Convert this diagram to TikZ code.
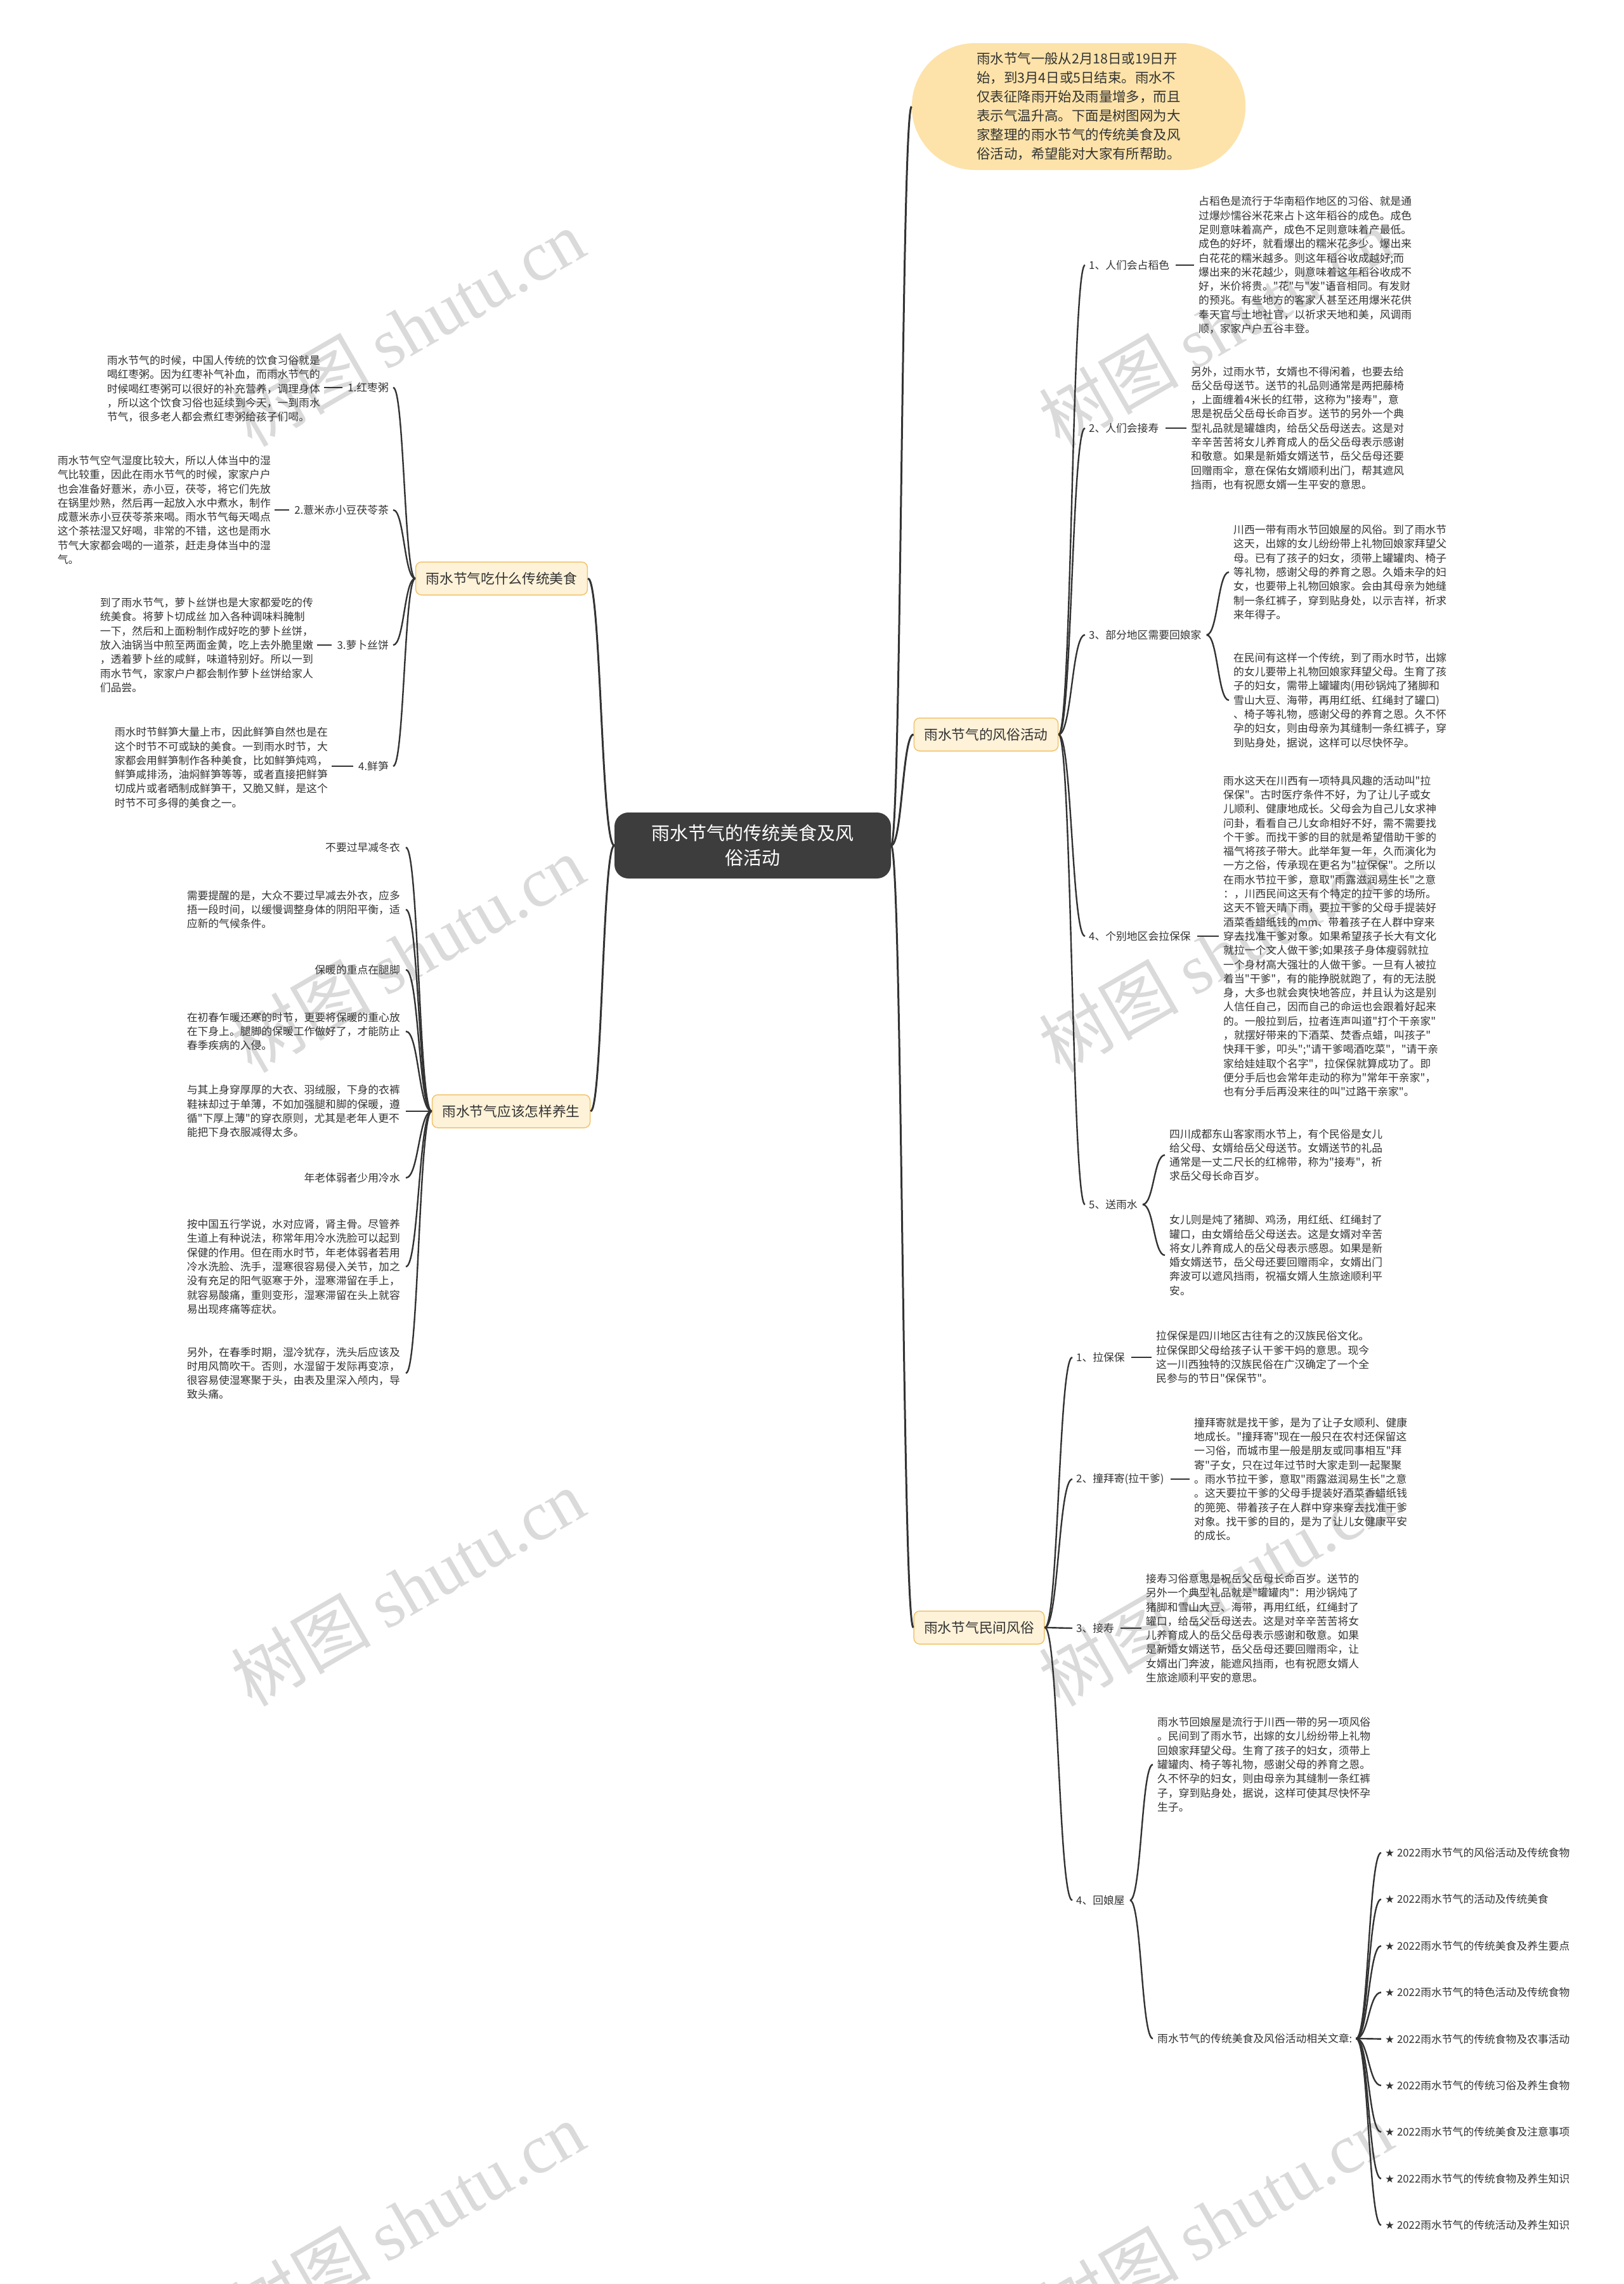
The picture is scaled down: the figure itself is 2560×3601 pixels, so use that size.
\documentclass[tikz,border=0pt]{standalone}
\usepackage{fontspec}
\setmainfont{Noto Sans CJK SC}[Ligatures=TeXOff]
\newfontfamily\symfont{DejaVu Sans}
\newfontfamily\wmlat{Liberation Serif}
\usetikzlibrary{calc,shapes.misc}
\definecolor{ink}{HTML}{333333}
\definecolor{pillfill}{HTML}{FDE3A9}
\definecolor{brfill}{HTML}{FEF2D8}
\definecolor{brdr}{HTML}{F2C46E}
\definecolor{cfill}{HTML}{3D3D3D}
\definecolor{wmgray}{HTML}{DADADA}
\tikzset{
  txt/.style={font=\fontsize{16.8}{22.3}\selectfont, inner sep=0pt, align=left, text=ink},
  lbl/.style={font=\fontsize{16.8}{22.3}\selectfont, inner sep=0pt, text=ink},
  branchnode/.style={draw=brdr, fill=brfill, line width=1.5pt, rounded corners=9pt,
    font=\fontsize{21.7}{26}\selectfont, inner xsep=16pt, inner ysep=0pt, minimum height=52pt, text=ink},
  centernode/.style={fill=cfill, rounded corners=22pt, text=white,
    font=\fontsize{29}{39}\selectfont, align=center, minimum width=436pt, minimum height=104pt},
  pill/.style={rounded rectangle, fill=pillfill, minimum width=533pt, minimum height=200pt,
    font=\fontsize{21.4}{30}\selectfont, align=left, text=ink},
  mainconn/.style={draw=ink, line width=3pt},
  subconn/.style={draw=ink, line width=2.4pt},
  bk/.style={to path={let \p1=(\tikztostart), \p2=(\tikztotarget) in
    (\p1) .. controls ({\x1+#1*(\x2-\x1)},\y1) and ({\x1+#1*(\x2-\x1)},\y2) .. (\p2)}},
  bk/.default=0.5,
  wm/.style={rotate=30, text=wmgray, font=\fontsize{110}{110}\selectfont, inner sep=0pt},
}
\begin{document}
\begin{tikzpicture}[x=1pt,y=-1pt]
\useasboundingbox[fill=white] (0,0) rectangle (2560,3601);
% watermarks
\foreach \wx/\wy [count=\i] in {643/517,1917/517,643/1504,1917/1504,643/2503,1917/2503,643/3501,1917/3501}
  \node[wm] (wm\i) at (\wx,\wy) {树图 {\wmlat shutu.cn}};

% top and centre
\node[pill] (top) at (1701,168) {雨水节气一般从2月18日或19日开\\始，到3月4日或5日结束。雨水不\\仅表征降雨开始及雨量增多，而且\\表示气温升高。下面是树图网为大\\家整理的雨水节气的传统美食及风\\俗活动，希望能对大家有所帮助。};
\node[centernode] (c) at (1187,1333) {雨水节气的传统美食及风\\俗活动};

% branches
\node[branchnode] (f) at (791,912) {雨水节气吃什么传统美食};
\node[branchnode] (h) at (806,1752) {雨水节气应该怎样养生};
\node[branchnode] (r) at (1555,1158) {雨水节气的风俗活动};
\node[branchnode] (m) at (1544,2566) {雨水节气民间风俗};

\draw[mainconn] (c.east) to[bk] (top.west);
\draw[mainconn] (c.east) to[bk] (r.west);
\draw[mainconn] (c.east) to[bk] (m.west);
\draw[mainconn] (c.west) to[bk] (f.east);
\draw[mainconn] (c.west) to[bk] (h.east);

% ---------- food ----------
\node[lbl, anchor=east] (a1) at (613,611) {1.红枣粥};
\node[txt, anchor=east] (b1) at (505,613) {雨水节气的时候，中国人传统的饮食习俗就是\\喝红枣粥。因为红枣补气补血，而雨水节气的\\时候喝红枣粥可以很好的补充营养，调理身体\\，所以这个饮食习俗也延续到今天，一到雨水\\节气，很多老人都会煮红枣粥给孩子们喝。};
\node[lbl, anchor=east] (a2) at (613,804) {2.薏米赤小豆茯苓茶};
\node[txt, anchor=east] (b2) at (427,804) {雨水节气空气湿度比较大，所以人体当中的湿\\气比较重，因此在雨水节气的时候，家家户户\\也会准备好薏米，赤小豆，茯苓，将它们先放\\在锅里炒熟，然后再一起放入水中煮水，制作\\成薏米赤小豆茯苓茶来喝。雨水节气每天喝点\\这个茶祛湿又好喝，非常的不错，这也是雨水\\节气大家都会喝的一道茶，赶走身体当中的湿\\气。};
\node[lbl, anchor=east] (a3) at (613,1017) {3.萝卜丝饼};
\node[txt, anchor=east] (b3) at (494,1017) {到了雨水节气，萝卜丝饼也是大家都爱吃的传\\统美食。将萝卜切成丝 加入各种调味料腌制\\一下，然后和上面粉制作成好吃的萝卜丝饼，\\放入油锅当中煎至两面金黄，吃上去外脆里嫩\\，透着萝卜丝的咸鲜，味道特别好。所以一到\\雨水节气，家家户户都会制作萝卜丝饼给家人\\们品尝。};
\node[lbl, anchor=east] (a4) at (613,1208) {4.鲜笋};
\node[txt, anchor=east] (b4) at (517,1210) {雨水时节鲜笋大量上市，因此鲜笋自然也是在\\这个时节不可或缺的美食。一到雨水时节，大\\家都会用鲜笋制作各种美食，比如鲜笋炖鸡，\\鲜笋咸排汤，油焖鲜笋等等，或者直接把鲜笋\\切成片或者晒制成鲜笋干，又脆又鲜，是这个\\时节不可多得的美食之一。};
\foreach \k in {1,2,3,4}{
  \draw[subconn] (f.west) to[bk] ([xshift=7pt]a\k.east);
  \draw[subconn] ([xshift=-8pt]a\k.west) -- ([xshift=6pt]b\k.east |- a\k.west);
}

% ---------- health ----------
\node[lbl, anchor=east] (g1) at (631,1336) {不要过早减冬衣};
\node[txt, anchor=east] (g2) at (631,1434) {需要提醒的是，大众不要过早减去外衣，应多\\捂一段时间，以缓慢调整身体的阴阳平衡，适\\应新的气候条件。};
\node[lbl, anchor=east] (g3) at (631,1529) {保暖的重点在腿脚};
\node[txt, anchor=east] (g4) at (631,1626) {在初春乍暖还寒的时节，更要将保暖的重心放\\在下身上。腿脚的保暖工作做好了，才能防止\\春季疾病的入侵。};
\node[txt, anchor=east] (g5) at (631,1752) {与其上身穿厚厚的大衣、羽绒服，下身的衣裤\\鞋袜却过于单薄，不如加强腿和脚的保暖，遵\\循"下厚上薄"的穿衣原则，尤其是老年人更不\\能把下身衣服减得太多。};
\node[lbl, anchor=east] (g6) at (631,1857) {年老体弱者少用冷水};
\node[txt, anchor=east] (g7) at (631,1997) {按中国五行学说，水对应肾，肾主骨。尽管养\\生道上有种说法，称常年用冷水洗脸可以起到\\保健的作用。但在雨水时节，年老体弱者若用\\冷水洗脸、洗手，湿寒很容易侵入关节，加之\\没有充足的阳气驱寒于外，湿寒滞留在手上，\\就容易酸痛，重则变形，湿寒滞留在头上就容\\易出现疼痛等症状。};
\node[txt, anchor=east] (g8) at (631,2165) {另外，在春季时期，湿冷犹存，洗头后应该及\\时用风筒吹干。否则，水湿留于发际再变凉，\\很容易使湿寒聚于头，由表及里深入颅内，导\\致头痛。};
\foreach \k in {1,...,8}{
  \draw[subconn] (h.west) to[bk] ([xshift=9pt]g\k.east);
}

% ---------- customs (right) ----------
\node[lbl, anchor=west] (l1) at (1717,418) {1、人们会占稻色};
\node[txt, anchor=west] (t1) at (1890,418) {占稻色是流行于华南稻作地区的习俗、就是通\\过爆炒懦谷米花来占卜这年稻谷的成色。成色\\足则意味着高产，成色不足则意味着产最低。\\成色的好坏，就看爆出的糯米花多少。爆出来\\白花花的糯米越多。则这年稻谷收成越好;而\\爆出来的米花越少，则意味着这年稻谷收成不\\好，米价将贵。"花"与"发"语音相同。有发财\\的预兆。有些地方的客家人甚至还用爆米花供\\奉天官与土地社官，以祈求天地和美，风调雨\\顺，家家户户五谷丰登。};
\node[lbl, anchor=west] (l2) at (1717,675) {2、人们会接寿};
\node[txt, anchor=west] (t2) at (1878,675) {另外，过雨水节，女婿也不得闲着，也要去给\\岳父岳母送节。送节的礼品则通常是两把藤椅\\，上面缠着4米长的红带，这称为"接寿"，意\\思是祝岳父岳母长命百岁。送节的另外一个典\\型礼品就是罐雄肉，给岳父岳母送去。这是对\\辛辛苦苦将女儿养育成人的岳父岳母表示感谢\\和敬意。如果是新婚女婿送节，岳父岳母还要\\回赠雨伞，意在保佑女婿顺利出门，帮其遮风\\挡雨，也有祝愿女婿一生平安的意思。};
\node[lbl, anchor=west] (l3) at (1717,1001) {3、部分地区需要回娘家};
\node[txt, anchor=west] (t3a) at (1945,902) {川西一带有雨水节回娘屋的风俗。到了雨水节\\这天，出嫁的女儿纷纷带上礼物回娘家拜望父\\母。已有了孩子的妇女，须带上罐罐肉、椅子\\等礼物，感谢父母的养育之恩。久婚未孕的妇\\女，也要带上礼物回娘家。会由其母亲为她缝\\制一条红裤子，穿到贴身处，以示吉祥，祈求\\来年得子。};
\node[txt, anchor=west] (t3b) at (1945,1104) {在民间有这样一个传统，到了雨水时节，出嫁\\的女儿要带上礼物回娘家拜望父母。生育了孩\\子的妇女，需带上罐罐肉(用砂锅炖了猪脚和\\雪山大豆、海带，再用红纸、红绳封了罐口)\\、椅子等礼物，感谢父母的养育之恩。久不怀\\孕的妇女，则由母亲为其缝制一条红裤子，穿\\到贴身处，据说，这样可以尽快怀孕。};
\node[lbl, anchor=west] (l4) at (1717,1476) {4、个别地区会拉保保};
\node[txt, anchor=west] (t4) at (1929,1476) {雨水这天在川西有一项特具风趣的活动叫"拉\\保保"。古时医疗条件不好，为了让儿子或女\\儿顺利、健康地成长。父母会为自己儿女求神\\问卦，看看自己儿女命相好不好，需不需要找\\个干爹。而找干爹的目的就是希望借助干爹的\\福气将孩子带大。此举年复一年，久而演化为\\一方之俗，传承现在更名为"拉保保"。之所以\\在雨水节拉干爹，意取"雨露滋润易生长"之意\\：，川西民间这天有个特定的拉干爹的场所。\\这天不管天晴下雨，要拉干爹的父母手提装好\\酒菜香蜡纸钱的mm、带着孩子在人群中穿来\\穿去找准干爹对象。如果希望孩子长大有文化\\就拉一个文人做干爹;如果孩子身体瘦弱就拉\\一个身材高大强壮的人做干爹。一旦有人被拉\\着当"干爹"，有的能挣脱就跑了，有的无法脱\\身，大多也就会爽快地答应，并且认为这是别\\人信任自己，因而自己的命运也会跟着好起来\\的。一般拉到后，拉者连声叫道"打个干亲家"\\，就摆好带来的下酒菜、焚香点蜡，叫孩子"\\快拜干爹，叩头";"请干爹喝酒吃菜"，"请干亲\\家给娃娃取个名字"，拉保保就算成功了。即\\便分手后也会常年走动的称为"常年干亲家"，\\也有分手后再没来往的叫"过路干亲家"。};
\node[lbl, anchor=west] (l5) at (1717,1899) {5、送雨水};
\node[txt, anchor=west] (t5a) at (1844,1821) {四川成都东山客家雨水节上，有个民俗是女儿\\给父母、女婿给岳父母送节。女婿送节的礼品\\通常是一丈二尺长的红棉带，称为"接寿"，祈\\求岳父母长命百岁。};
\node[txt, anchor=west] (t5b) at (1844,1979) {女儿则是炖了猪脚、鸡汤，用红纸、红绳封了\\罐口，由女婿给岳父母送去。这是女婿对辛苦\\将女儿养育成人的岳父母表示感恩。如果是新\\婚女婿送节，岳父母还要回赠雨伞，女婿出门\\奔波可以遮风挡雨，祝福女婿人生旅途顺利平\\安。};
\foreach \k in {1,...,5}{
  \draw[subconn] (r.east) to[bk] ([xshift=-6pt]l\k.west);
}
\draw[subconn] ([xshift=10pt]l1.east) -- ([xshift=-7pt]t1.west);
\draw[subconn] ([xshift=10pt]l2.east) -- ([xshift=-7pt]t2.west);
\draw[subconn] ([xshift=10pt]l4.east) -- ([xshift=-7pt]t4.west);
\draw[subconn] ([xshift=8pt]l3.east) to[bk] ([xshift=-7pt]t3a.west);
\draw[subconn] ([xshift=8pt]l3.east) to[bk] ([xshift=-7pt]t3b.west);
\draw[subconn] ([xshift=8pt]l5.east) to[bk] ([xshift=-7pt]t5a.west);
\draw[subconn] ([xshift=8pt]l5.east) to[bk] ([xshift=-7pt]t5b.west);

% ---------- folk customs ----------
\node[lbl, anchor=west] (n1) at (1697,2140) {1、拉保保};
\node[txt, anchor=west] (u1) at (1823,2140) {拉保保是四川地区古往有之的汉族民俗文化。\\拉保保即父母给孩子认干爹干妈的意思。现今\\这一川西独特的汉族民俗在广汉确定了一个全\\民参与的节日"保保节"。};
\node[lbl, anchor=west] (n2) at (1697,2332) {2、撞拜寄(拉干爹)};
\node[txt, anchor=west] (u2) at (1883,2332) {撞拜寄就是找干爹，是为了让子女顺利、健康\\地成长。"撞拜寄"现在一般只在农村还保留这\\一习俗，而城市里一般是朋友或同事相互"拜\\寄"子女，只在过年过节时大家走到一起聚聚\\。雨水节拉干爹，意取"雨露滋润易生长"之意\\。这天要拉干爹的父母手提装好酒菜香蜡纸钱\\的篼篼、带着孩子在人群中穿来穿去找准干爹\\对象。找干爹的目的，是为了让儿女健康平安\\的成长。};
\node[lbl, anchor=west] (n3) at (1697,2567) {3、接寿};
\node[txt, anchor=west] (u3) at (1807,2567) {接寿习俗意思是祝岳父岳母长命百岁。送节的\\另外一个典型礼品就是"罐罐肉"：用沙锅炖了\\猪脚和雪山大豆、海带，再用红纸，红绳封了\\罐口，给岳父岳母送去。这是对辛辛苦苦将女\\儿养育成人的岳父岳母表示感谢和敬意。如果\\是新婚女婿送节，岳父岳母还要回赠雨伞，让\\女婿出门奔波，能遮风挡雨，也有祝愿女婿人\\生旅途顺利平安的意思。};
\node[lbl, anchor=west] (n4) at (1697,2996) {4、回娘屋};
\node[txt, anchor=west] (u4) at (1825,2782) {雨水节回娘屋是流行于川西一带的另一项风俗\\。民间到了雨水节，出嫁的女儿纷纷带上礼物\\回娘家拜望父母。生育了孩子的妇女，须带上\\罐罐肉、椅子等礼物，感谢父母的养育之恩。\\久不怀孕的妇女，则由母亲为其缝制一条红裤\\子，穿到贴身处，据说，这样可使其尽快怀孕\\生子。};
\node[lbl, anchor=west] (rel) at (1825,3214) {雨水节气的传统美食及风俗活动相关文章:};
\foreach \k in {1,...,4}{
  \draw[subconn] (m.east) to[bk] ([xshift=-6pt]n\k.west);
}
\draw[subconn] ([xshift=10pt]n1.east) -- ([xshift=-7pt]u1.west);
\draw[subconn] ([xshift=10pt]n2.east) -- ([xshift=-7pt]u2.west);
\draw[subconn] ([xshift=10pt]n3.east) -- ([xshift=-7pt]u3.west);
\draw[subconn] ([xshift=8pt]n4.east) to[bk] ([xshift=-7pt]u4.west);
\draw[subconn] ([xshift=8pt]n4.east) to[bk] ([xshift=-7pt]rel.west);

\foreach \t [count=\k] in {风俗活动及传统食物,活动及传统美食,传统美食及养生要点,特色活动及传统食物,传统食物及农事活动,传统习俗及养生食物,传统美食及注意事项,传统食物及养生知识,传统活动及养生知识}{
  \node[lbl, anchor=west] (L\k) at (2184,{2921+73.4*(\k-1)}) {{\symfont ★} 2022雨水节气的\t};
  \draw[subconn] ([xshift=6pt]rel.east) to[bk] ([xshift=-6pt]L\k.west);
}
\end{tikzpicture}
\end{document}
